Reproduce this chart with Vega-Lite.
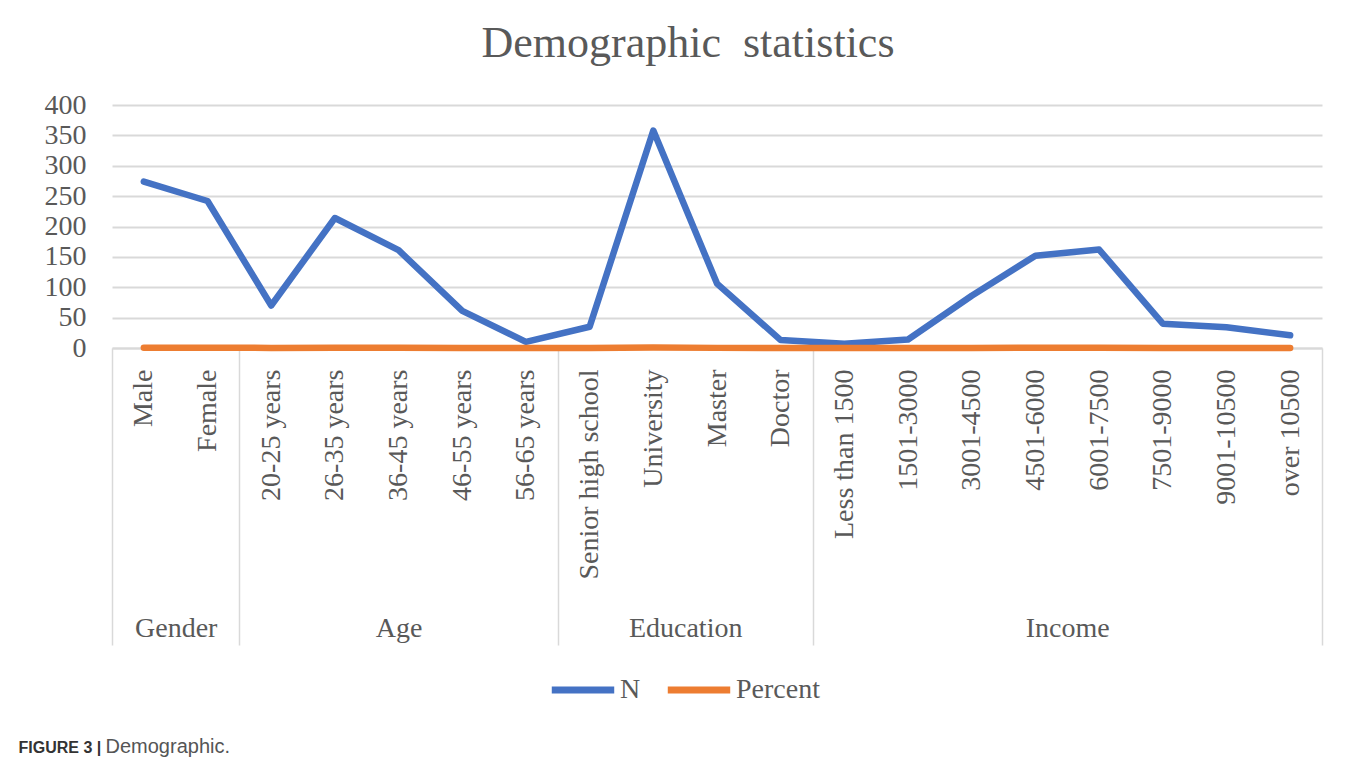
{
  "$schema": "https://vega.github.io/schema/vega-lite/v6.json",
  "width": 1210,
  "height": 243,
  "autosize": "none",
  "padding": {"left": 112, "top": 105, "right": 35, "bottom": 417},
  "background": "white",
  "title": {
    "text": "Demographic\u00a0 statistics",
    "font": "Liberation Serif",
    "fontSize": 44,
    "fontWeight": "normal",
    "color": "#595959",
    "anchor": "middle",
    "dx": -29,
    "offset": 25
  },
  "datasets": {
    "stats": [
      {"cat": "Male", "group": "Gender", "N": 274, "Percent": 0.531},
      {"cat": "Female", "group": "Gender", "N": 242, "Percent": 0.469},
      {"cat": "20-25 years", "group": "Age", "N": 70, "Percent": 0.136},
      {"cat": "26-35 years", "group": "Age", "N": 214, "Percent": 0.415},
      {"cat": "36-45 years", "group": "Age", "N": 161, "Percent": 0.312},
      {"cat": "46-55 years", "group": "Age", "N": 61, "Percent": 0.118},
      {"cat": "56-65 years", "group": "Age", "N": 10, "Percent": 0.019},
      {"cat": "Senior high school", "group": "Education", "N": 35, "Percent": 0.068},
      {"cat": "University", "group": "Education", "N": 358, "Percent": 0.694},
      {"cat": "Master", "group": "Education", "N": 106, "Percent": 0.205},
      {"cat": "Doctor", "group": "Education", "N": 13, "Percent": 0.025},
      {"cat": "Less than 1500", "group": "Income", "N": 7, "Percent": 0.014},
      {"cat": "1501-3000", "group": "Income", "N": 14, "Percent": 0.027},
      {"cat": "3001-4500", "group": "Income", "N": 86, "Percent": 0.167},
      {"cat": "4501-6000", "group": "Income", "N": 152, "Percent": 0.295},
      {"cat": "6001-7500", "group": "Income", "N": 162, "Percent": 0.314},
      {"cat": "7501-9000", "group": "Income", "N": 40, "Percent": 0.078},
      {"cat": "9001-10500", "group": "Income", "N": 34, "Percent": 0.066},
      {"cat": "over 10500", "group": "Income", "N": 21, "Percent": 0.041}
    ],
    "groups": [
      {"group": "Gender", "start": 0, "end": 2},
      {"group": "Age", "start": 2, "end": 7},
      {"group": "Education", "start": 7, "end": 11},
      {"group": "Income", "start": 11, "end": 19}
    ]
  },
  "layer": [
    {
      "data": {"name": "groups"},
      "mark": {"type": "point", "opacity": 0},
      "encoding": {
        "x": {
          "field": "start",
          "type": "quantitative",
          "scale": {"domain": [0, 19], "nice": false, "zero": false},
          "axis": {
            "orient": "bottom",
            "values": [0, 2, 7, 11, 19],
            "labels": false,
            "grid": false,
            "domain": false,
            "ticks": true,
            "tickSize": 297,
            "tickColor": "#d9d9d9",
            "tickWidth": 1.5,
            "title": "FIGURE 3 |",
            "titleFont": "Liberation Sans, Arial",
            "titleFontSize": 16,
            "titleFontWeight": "bold",
            "titleColor": "#333333",
            "titleX": -94,
            "titleY": 404,
            "titleAlign": "left",
            "titleBaseline": "alphabetic",
            "titleAngle": 0
          }
        }
      }
    },
    {
      "data": {"name": "groups"},
      "mark": {"type": "point", "opacity": 0},
      "encoding": {
        "x": {
          "field": "end",
          "type": "quantitative",
          "scale": {"domain": [0, 19], "nice": false, "zero": false},
          "axis": {
            "orient": "bottom",
            "values": [1, 4.5, 9, 15],
            "labelExpr": "datum.value == 1 ? 'Gender' : datum.value == 4.5 ? 'Age' : datum.value == 9 ? 'Education' : 'Income'",
            "labelFont": "Liberation Serif",
            "labelFontSize": 28,
            "labelColor": "#595959",
            "labelPadding": 266,
            "labelOverlap": false,
            "grid": false,
            "domain": false,
            "ticks": false,
            "title": "Demographic.",
            "titleFont": "Liberation Sans, Arial",
            "titleFontSize": 20,
            "titleFontWeight": "normal",
            "titleColor": "#555555",
            "titleX": -7,
            "titleY": 404,
            "titleAlign": "left",
            "titleBaseline": "alphabetic",
            "titleAngle": 0
          }
        }
      }
    },
    {
      "data": {"name": "stats"},
      "transform": [{"fold": ["N", "Percent"], "as": ["series", "value"]}],
      "mark": {"type": "line", "strokeWidth": 6.5, "strokeCap": "round", "strokeJoin": "round"},
      "encoding": {
        "x": {
          "field": "cat",
          "type": "nominal",
          "sort": null,
          "scale": {"type": "point", "padding": 0.5},
          "axis": {
            "orient": "bottom",
            "labelAngle": -90,
            "labelFont": "Liberation Serif",
            "labelFontSize": 28,
            "labelColor": "#595959",
            "labelPadding": 21,
            "labelLimit": 400,
            "labelOverlap": false,
            "ticks": false,
            "domainColor": "#d9d9d9",
            "domainWidth": 2,
            "grid": false,
            "title": null
          }
        },
        "y": {
          "field": "value",
          "type": "quantitative",
          "scale": {"domain": [0, 400], "nice": false},
          "axis": {
            "values": [0, 50, 100, 150, 200, 250, 300, 350, 400],
            "labelFont": "Liberation Serif",
            "labelFontSize": 28,
            "labelColor": "#595959",
            "labelPadding": 26,
            "ticks": false,
            "domain": false,
            "grid": true,
            "gridColor": "#d9d9d9",
            "gridWidth": 2,
            "title": null
          }
        },
        "color": {
          "field": "series",
          "type": "nominal",
          "scale": {"domain": ["N", "Percent"], "range": ["#4472C4", "#ED7D31"]},
          "legend": {
            "orient": "none",
            "legendX": 436,
            "legendY": 550,
            "direction": "horizontal",
            "title": null,
            "symbolType": "stroke",
            "symbolSize": 3900,
            "symbolStrokeWidth": 7,
            "labelFont": "Liberation Serif",
            "labelFontSize": 28,
            "labelColor": "#595959",
            "labelOffset": 2,
            "columnPadding": 12
          }
        }
      }
    }
  ],
  "resolve": {"scale": {"x": "independent"}, "axis": {"x": "independent"}},
  "config": {"view": {"stroke": null}}
}
